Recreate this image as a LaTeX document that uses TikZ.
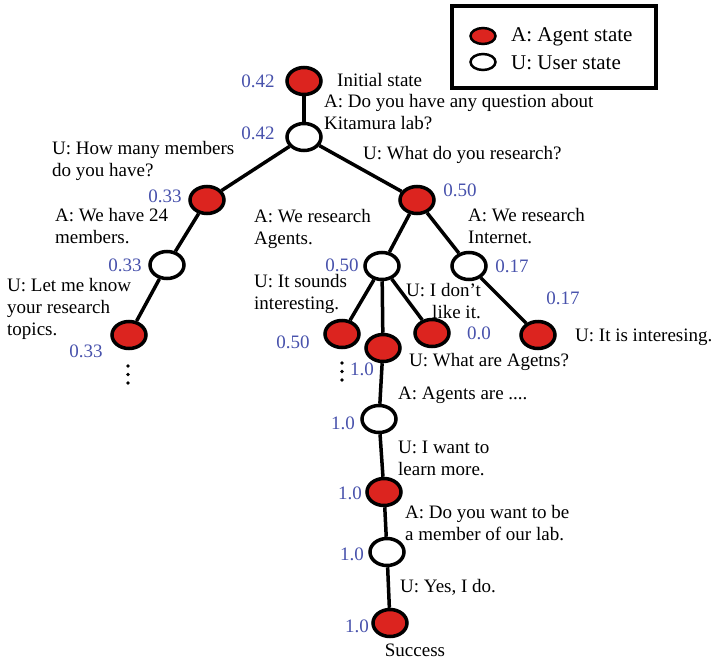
\documentclass[tikz,border=0pt]{standalone}
\usepackage{fontspec}
\setmainfont{Liberation Serif}
\usepackage{xcolor}
\usepackage{tikz}
\usetikzlibrary{positioning, shapes.geometric}
\definecolor{agentred}{RGB}{220,36,31}
\definecolor{probblue}{RGB}{72,82,172}

\begin{document}
\begin{tikzpicture}[x=1pt,y=-1pt]
						\tikzstyle{agent}=[ellipse,draw=black,line width=3.5pt,fill=agentred,minimum width=34pt,minimum height=27pt,inner sep=0pt]
						\tikzstyle{user}=[agent,fill=white]
						\tikzstyle{txt}=[inner sep=0pt,align=left,anchor=west,font=\fontsize{19}{22}\selectfont]
						\tikzstyle{prob}=[txt,anchor=center,text=probblue]
						\useasboundingbox (0,0) rectangle (713,662);
						% legend
						\draw[line width=3.3pt] (452,6) rectangle (656,88);
						\node[agent,line width=2.5pt,minimum width=25pt,minimum height=16pt](la) at (483,36) {};
						\node[user,line width=2.5pt,minimum width=25pt,minimum height=16pt](lu) at (483,62) {};
						\node[txt,font=\fontsize{21}{24}\selectfont](lat) at (511,37) {A: Agent state};
						\node[txt,font=\fontsize{21}{24}\selectfont](lut) at (511,63) {U: User state};
						% states
						\node[agent](a0) at (304,81) {};
						\node[user](u0) at (304,137) {};
						\node[agent](a1) at (207,200) {};
						\node[user](u1) at (167,265) {};
						\node[agent](a2) at (129,335) {};
						\node[agent](a3) at (417,200) {};
						\node[user](u2) at (382,266) {};
						\node[user](u3) at (469,266) {};
						\node[agent](a4) at (342,334) {};
						\node[agent](a5) at (383,348) {};
						\node[agent](a6) at (432,333) {};
						\node[agent](a7) at (538,335) {};
						\node[user](u4) at (379,419) {};
						\node[agent](a8) at (384,492) {};
						\node[user](u5) at (387,552) {};
						\node[agent](a9) at (390,623) {};
						\path[line width=3.5pt]
							(a0) edge (u0)
							(u0) edge (a1)
							(u0) edge (a3)
							(a1) edge (u1)
							(u1) edge (a2)
							(a3) edge (u2)
							(a3) edge (u3)
							(u2) edge (a4)
							(u2) edge (a5)
							(u2) edge (a6)
							(u3) edge (a7)
							(a5) edge (u4)
							(u4) edge (a8)
							(a8) edge (u5)
							(u5) edge (a9);
						% utterances
						\node[txt](t1) at (337,80) {Initial state};
						\node[txt](t2) at (324,112) {A: Do you have any question about\\Kitamura lab?};
						\node[txt](t3) at (52,161) {U: How many members\\do you have?};
						\node[txt](t4) at (363,155) {U: What do you research?};
						\node[txt](t5) at (55,226) {A: We have 24\\members.};
						\node[txt](t6) at (7,309) {U: Let me know\\your research\\topics.};
						\node[txt](t7) at (254,229) {A: We research\\Agents.};
						\node[txt](t8) at (468,226) {A: We research\\Internet.};
						\node[txt](t9) at (254,294) {U: It sounds\\interesting.};
						\node[txt,align=right](t10) at (406,301) {U: I don’t\\like it.};
						\node[txt](t11) at (409,362) {U: What are Agetns?};
						\node[txt](t12) at (575,337) {U: It is interesing.};
						\node[txt](t13) at (398,395) {A: Agents are ....};
						\node[txt](t14) at (398,458) {U: I want to\\learn more.};
						\node[txt](t15) at (405,523) {A: Do you want to be\\a member of our lab.};
						\node[txt](t16) at (400,587) {U: Yes, I do.};
						\node[txt,anchor=center](t17) at (415,650) {Success};
						% values
						\node[prob](p1) at (258,81) {0.42};
						\node[prob](p2) at (258,133) {0.42};
						\node[prob](p3) at (165,196) {0.33};
						\node[prob](p4) at (460,190) {0.50};
						\node[prob](p5) at (125,265) {0.33};
						\node[prob](p6) at (86,351) {0.33};
						\node[prob](p7) at (342,265) {0.50};
						\node[prob](p8) at (512,266) {0.17};
						\node[prob](p9) at (563,298) {0.17};
						\node[prob](p10) at (293,342) {0.50};
						\node[prob](p11) at (479,333) {0.0};
						\node[prob](p12) at (362,369) {1.0};
						\node[prob](p13) at (343,423) {1.0};
						\node[prob](p14) at (350,493) {1.0};
						\node[prob](p15) at (352,554) {1.0};
						\node[prob](p16) at (357,626) {1.0};
						% omitted branches
						\coordinate (d1) at (128,366);
						\coordinate (d2) at (342,363);
						\foreach \k in {0,1,2}{
							\fill (d1) ++(0,\k*8.5) circle (1.8pt);
							\fill (d2) ++(0,\k*8.5) circle (1.8pt);
						}
					\end{tikzpicture}
\end{document}
